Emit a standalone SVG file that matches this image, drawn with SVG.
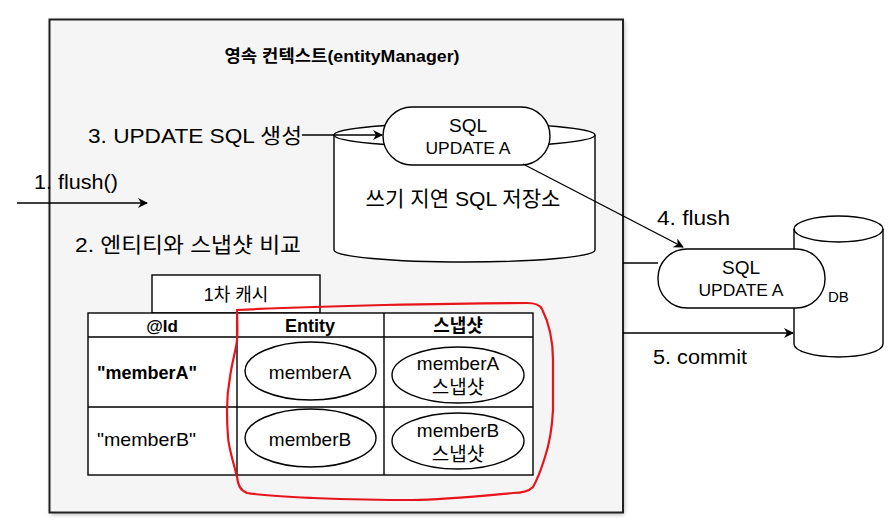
<svg xmlns="http://www.w3.org/2000/svg" width="895" height="528" viewBox="0 0 895 528">
<style>
text{font-family:"Liberation Sans","Noto Sans CJK KR",sans-serif;fill:#000}
.s{stroke:#000;stroke-width:1.4;fill:#fff}
.c{text-anchor:middle}
.b{font-weight:bold}
.ln{stroke:#000;stroke-width:1.4;fill:none}
</style>
<defs>
<marker id="ar" viewBox="0 0 10 10" refX="9" refY="5" markerWidth="10" markerHeight="10" markerUnits="userSpaceOnUse" orient="auto">
<path d="M0,0 L10,5 L0,10 L3,5 z" fill="#000"/>
</marker>
<filter id="sh" x="-5%" y="-5%" width="110%" height="110%">
<feGaussianBlur stdDeviation="2.5"/>
</filter>
</defs>
<rect width="895" height="528" fill="#fff"/>
<g id="context">
<rect x="51" y="21" width="573" height="493" fill="#000" opacity="0.35" filter="url(#sh)"/>
<rect x="49.5" y="19.5" width="573.5" height="493" fill="#f5f5f5" stroke="#222" stroke-width="2"/>
<text x="342" y="62" class="c b" font-size="17" textLength="235" lengthAdjust="spacingAndGlyphs">영속 컨텍스트(entityManager)</text>
</g>
<g id="labels">
<text x="88" y="143" font-size="21" textLength="214" lengthAdjust="spacingAndGlyphs">3. UPDATE SQL 생성</text>
<text x="34" y="189" font-size="21" textLength="84" lengthAdjust="spacingAndGlyphs">1. flush()</text>
<text x="75" y="252" font-size="21" textLength="226" lengthAdjust="spacingAndGlyphs">2. 엔티티와 스냅샷 비교</text>
<text x="657" y="225" font-size="20" textLength="73" lengthAdjust="spacingAndGlyphs">4. flush</text>
<text x="653" y="364" font-size="20" textLength="94" lengthAdjust="spacingAndGlyphs">5. commit</text>
</g>
<g id="store">
<path class="s" d="M334,135 A130.5,12 0 0 1 595,135 L595,250 A130.5,12 0 0 1 334,250 Z"/>
<path class="ln" d="M334,135 A130.5,12 0 0 0 595,135"/>
<text x="463" y="206" class="c" font-size="21" textLength="195" lengthAdjust="spacingAndGlyphs">쓰기 지연 SQL 저장소</text>
</g>
<g id="sql1">
<rect class="s" x="383" y="107" width="167" height="58" rx="29" ry="29"/>
<text x="468" y="132" class="c" font-size="19">SQL</text>
<text x="468" y="154" class="c" font-size="17" textLength="85" lengthAdjust="spacingAndGlyphs">UPDATE A</text>
</g>
<g id="db">
<path class="s" d="M794,229 A44.5,13 0 0 1 883,229 L883,344 A44.5,13 0 0 1 794,344 Z"/>
<path class="ln" d="M794,229 A44.5,13 0 0 0 883,229"/>
<text x="828" y="302" font-size="15">DB</text>
</g>
<g id="sql2">
<rect class="s" x="658" y="249" width="167" height="59" rx="29" ry="29"/>
<text x="741" y="274" class="c" font-size="19">SQL</text>
<text x="741" y="296" class="c" font-size="17" textLength="85" lengthAdjust="spacingAndGlyphs">UPDATE A</text>
</g>
<g id="cache">
<rect class="s" x="152" y="275" width="168" height="38"/>
<text x="236" y="301" class="c" font-size="18">1차 캐시</text>
<rect class="s" x="88" y="313" width="445" height="162"/>
<path class="ln" d="M88,337 H533 M88,407 H533 M237,313 V475 M384,313 V475"/>
<text x="162" y="332" class="c b" font-size="17">@Id</text>
<text x="310" y="332" class="c b" font-size="18">Entity</text>
<text x="458" y="332" class="c b" font-size="18">스냅샷</text>
<text x="97" y="379" class="b" font-size="18" textLength="100" lengthAdjust="spacingAndGlyphs">"memberA"</text>
<text x="97" y="446" font-size="19" textLength="99" lengthAdjust="spacingAndGlyphs">"memberB"</text>
<ellipse class="s" cx="310.5" cy="371" rx="65.5" ry="29"/>
<text x="310" y="379" class="c" font-size="19">memberA</text>
<ellipse class="s" cx="310.5" cy="438" rx="65.5" ry="29"/>
<text x="310" y="446" class="c" font-size="19">memberB</text>
<ellipse class="s" cx="458" cy="375" rx="66" ry="28"/>
<text x="458" y="370" class="c" font-size="19">memberA</text>
<text x="458" y="394" class="c" font-size="19">스냅샷</text>
<ellipse class="s" cx="458" cy="441" rx="66" ry="28"/>
<text x="458" y="437" class="c" font-size="19">memberB</text>
<text x="458" y="461" class="c" font-size="19">스냅샷</text>
</g>
<g id="highlight">
<path d="M237,310 C320,306 450,303 527,303 C535,303 540,305 542,309 C550,325 553,340 553,360 C553,380 553,400 553,410 C552,430 549,445 545,457 C541,470 537,480 533,487 C528,492 520,493 513,493 C470,497 440,500 413,500 C380,500 340,499 313,498 C290,497 265,496 247,493 C240,490 238,485 237,477 C233,460 229,450 228,437 C227,425 227,418 227,410 C227,398 228,388 230,377 C232,362 236,350 237,340 C238,330 237,318 237,310 Z" fill="none" stroke="#e8141b" stroke-width="2.2"/>
</g>
<g id="connectors">
<line class="ln" x1="302" y1="135" x2="382" y2="135" marker-end="url(#ar)"/>
<line class="ln" x1="17" y1="203" x2="147" y2="203" marker-end="url(#ar)"/>
<line class="ln" x1="523" y1="164" x2="683" y2="247" marker-end="url(#ar)"/>
<line class="ln" x1="623" y1="263" x2="658" y2="263"/>
<line class="ln" x1="623" y1="333" x2="793" y2="333" marker-end="url(#ar)"/>
</g>
</svg>
